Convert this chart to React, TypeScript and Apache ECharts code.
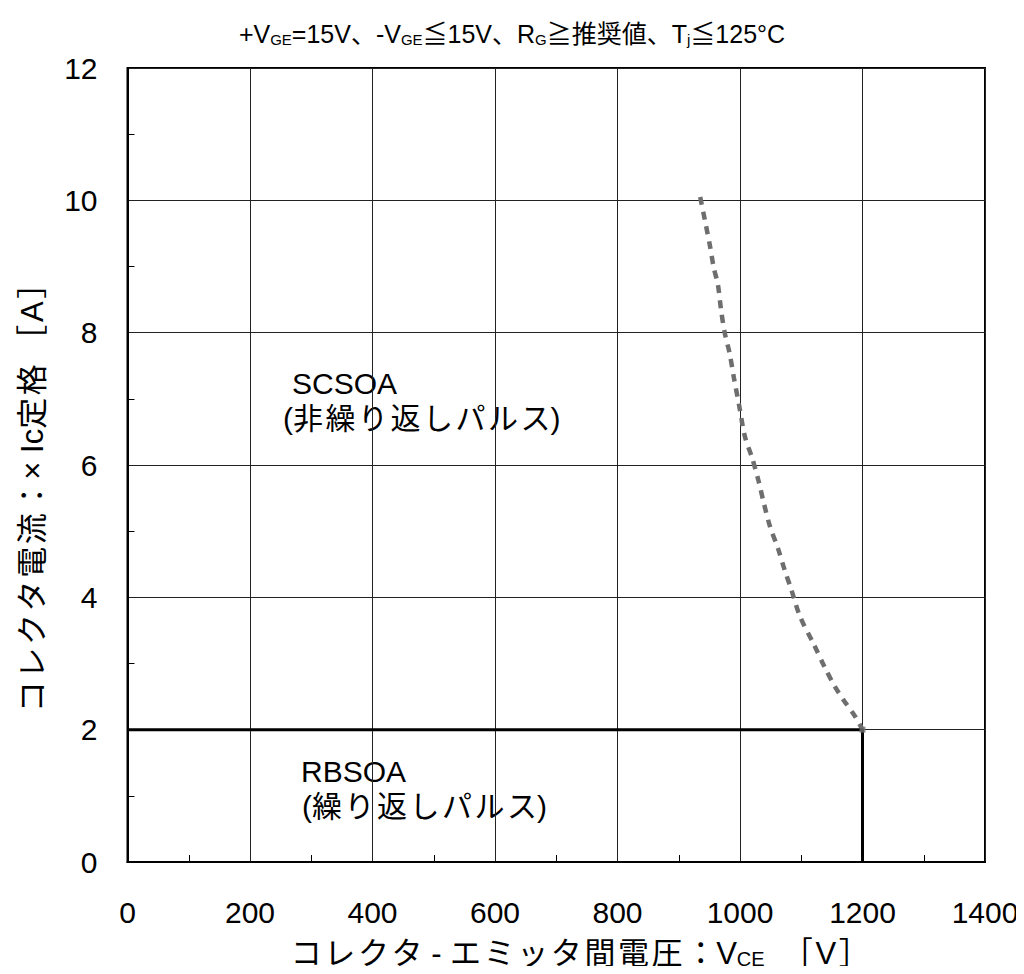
import React, { useEffect, useRef } from "react";
import * as echarts from "echarts";

// Short-circuit safe operating area boundary (V, x Ic rating)
const scsoaVoltage = [935, 944, 951, 957, 964, 969, 975, 983, 990, 999, 1008, 1020, 1030, 1039, 1049, 1062, 1073, 1083, 1098, 1120, 1139, 1155, 1169, 1188, 1200];
const scsoaCurrent = [10.05, 9.64, 9.31, 8.99, 8.72, 8.35, 8.0, 7.69, 7.32, 6.88, 6.43, 6.1, 5.77, 5.42, 5.07, 4.74, 4.41, 4.14, 3.71, 3.3, 2.93, 2.65, 2.45, 2.2, 2.0];

// Reverse-bias safe operating area boundary
const rbsoaVoltage = [0, 1200, 1200];
const rbsoaCurrent = [2, 2, 0];

const xTicks = [0, 200, 400, 600, 800, 1000, 1200, 1400];
const yTicks = [0, 2, 4, 6, 8, 10, 12];

const FONT = '"Liberation Sans", Arial, "Noto Sans CJK JP", sans-serif';
const HS = "\u200A"; // hair space used to loosen Japanese glyph spacing

const spread = (s: string) => Array.from(s).join(HS);

export default function App() {
  const ref = useRef<HTMLDivElement>(null);

  useEffect(() => {
    if (!ref.current) return;
    const chart = echarts.init(ref.current, undefined, { renderer: "svg" });

    const gridColor = "#222";
    const labelStyle = { fontSize: 30, fill: "#000", fontFamily: FONT };

    chart.setOption({
      animation: false,
      backgroundColor: "#ffffff",
      textStyle: { fontFamily: FONT },
      title: {
        text:
          "{n|+V}{s|GE}{n|=15V、-V}{s|GE}{n|≦15V、R}{s|G}{n|≧推奨値、T}{s|j}{n|≦125°C}",
        left: "center",
        top: 12,
        textStyle: {
          fontWeight: "normal",
          rich: {
            n: { fontSize: 25, fontWeight: "normal", color: "#000", fontFamily: FONT, verticalAlign: "bottom", lineHeight: 30 },
            s: { fontSize: 15, fontWeight: "normal", color: "#000", fontFamily: FONT, verticalAlign: "bottom", lineHeight: 23 },
          },
        },
      },
      grid: {
        left: 127.5,
        right: 39,
        top: 68,
        bottom: 112,
        show: true,
        borderColor: "#000",
        borderWidth: 2,
        backgroundColor: "transparent",
      },
      xAxis: {
        type: "value",
        min: xTicks[0],
        max: xTicks[xTicks.length - 1],
        interval: 200,
        name: spread("コレクタ") + " - " + spread("エミッタ間電圧：") + "V{s|CE}  " + spread("［V］"),
        nameLocation: "middle",
        nameGap: 76,
        nameTextStyle: {
          fontSize: 31,
          color: "#000",
          fontFamily: FONT,
          padding: [0, 0, 0, 48],
          rich: { s: { fontSize: 20, color: "#000", fontFamily: FONT, verticalAlign: "bottom" } },
        },
        axisLine: { show: true, lineStyle: { color: "#000", width: 2 } },
        axisTick: { show: false, inside: true },
        minorTick: { show: true, splitNumber: 2, length: 7, lineStyle: { color: "#000", width: 1 } },
        axisLabel: { fontSize: 30, color: "#000", margin: 35, fontFamily: FONT, formatter: (v: number) => String(v) },
        splitLine: { show: true, lineStyle: { color: gridColor, width: 1 } },
      },
      yAxis: {
        type: "value",
        min: yTicks[0],
        max: yTicks[yTicks.length - 1],
        interval: 2,
        name: spread("コレクタ電流：") + "× Ic" + spread("定格") + " " + spread("［A］"),
        nameLocation: "middle",
        nameGap: 80,
        nameTextStyle: { fontSize: 31, color: "#000", fontFamily: FONT, padding: [0, 50, 0, 0] },
        axisLine: { show: true, lineStyle: { color: "#000", width: 2 } },
        axisTick: { show: false, inside: true },
        minorTick: { show: true, splitNumber: 2, length: 7, lineStyle: { color: "#000", width: 1 } },
        axisLabel: { fontSize: 30, color: "#000", margin: 30, fontFamily: FONT },
        splitLine: { show: true, lineStyle: { color: gridColor, width: 1 } },
      },
      series: [
        {
          type: "line",
          name: "SCSOA",
          data: scsoaVoltage.map((v, i) => [v, scsoaCurrent[i]]),
          smooth: 0.3,
          symbol: "none",
          lineStyle: { color: "#6e6e6e", width: 4.5, type: [8, 7] },
          z: 3,
        },
        {
          type: "line",
          name: "RBSOA",
          data: rbsoaVoltage.map((v, i) => [v, rbsoaCurrent[i]]),
          symbol: "none",
          lineStyle: { color: "#000", width: 3 },
          z: 4,
        },
        {
          type: "scatter",
          data: [[rbsoaVoltage[1], rbsoaCurrent[1]]],
          symbol: "rect",
          symbolSize: 6,
          itemStyle: { color: "#707070" },
          z: 5,
        },
      ],
      graphic: [
        { type: "text", left: 292, top: 368, style: { ...labelStyle, text: "SCSOA" } },
        { type: "text", left: 283, top: 403, style: { ...labelStyle, text: "(" + spread("非繰り返しパルス") + ")" } },
        { type: "text", left: 301, top: 756, style: { ...labelStyle, text: "RBSOA" } },
        { type: "text", left: 302, top: 791, style: { ...labelStyle, text: "(" + spread("繰り返しパルス") + ")" } },
      ],
    });

    return () => chart.dispose();
  }, []);

  return <div ref={ref} style={{ width: 1024, height: 974, margin: -8 }} />;
}
